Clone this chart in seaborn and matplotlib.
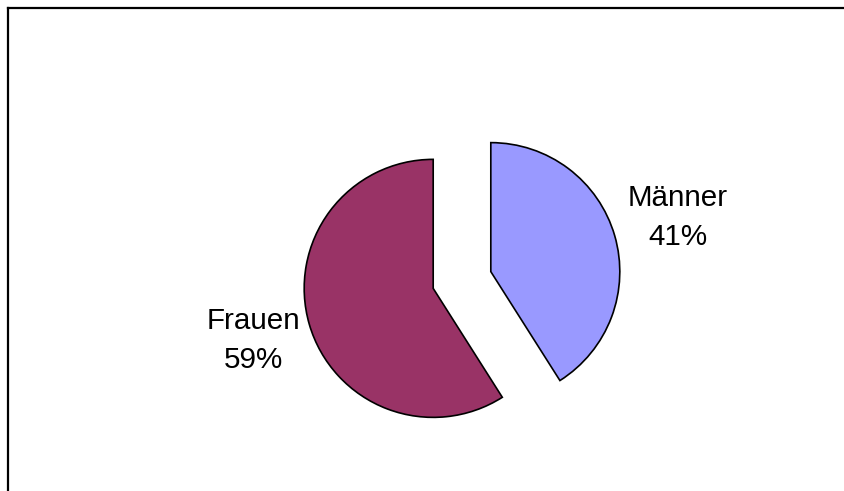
import numpy as np
import matplotlib
matplotlib.use("Agg")
import matplotlib.pyplot as plt
import seaborn as sns

# Data
labels = ["Männer", "Frauen"]
shares = [41, 59]
colors = ["#9999FF", "#993366"]
label_dist = [1.51, 1.45]

sns.set_theme(style="white")
plt.rcParams['font.family'] = ['Liberation Sans', 'DejaVu Sans']

W, H = 845, 491
fig = plt.figure(figsize=(W / 100, H / 100), dpi=100)
# axes in pixel units, frame only on top and left
ax = fig.add_axes([8 / W, 0, (W - 8) / W, (H - 8) / H])
ax.set_xlim(8, W)
ax.set_ylim(0, H - 8)
ax.set_aspect('equal')

wedges, texts = ax.pie(
    shares,
    labels=[f"{l}\n{s}%" for l, s in zip(labels, shares)],
    colors=colors,
    startangle=90,
    counterclock=False,
    explode=[30, 30],
    center=(462, 211),
    radius=129,
    labeldistance=1.5,
    wedgeprops=dict(edgecolor='black', linewidth=1.2),
    textprops=dict(fontsize=21.3, color='black'),
    frame=True,
)
# per-label distance from the (exploded) wedge centre
for w, t, d in zip(wedges, texts, label_dist):
    th = np.deg2rad((w.theta1 + w.theta2) / 2)
    cx, cy = w.center
    t.set_position((cx + d * w.r * np.cos(th), cy + d * w.r * np.sin(th)))
    t.set_ha('center')
    t.set_va('center')
    t.set_multialignment('center')
    t.set_linespacing(1.5)

ax.set_xlim(8, W)
ax.set_ylim(0, H - 8)
ax.set_xticks([])
ax.set_yticks([])
for side in ['right', 'bottom']:
    ax.spines[side].set_visible(False)
for side in ['top', 'left']:
    ax.spines[side].set_visible(True)
    ax.spines[side].set_color('black')
    ax.spines[side].set_linewidth(1.6)

fig.savefig('out.png', dpi=100)
